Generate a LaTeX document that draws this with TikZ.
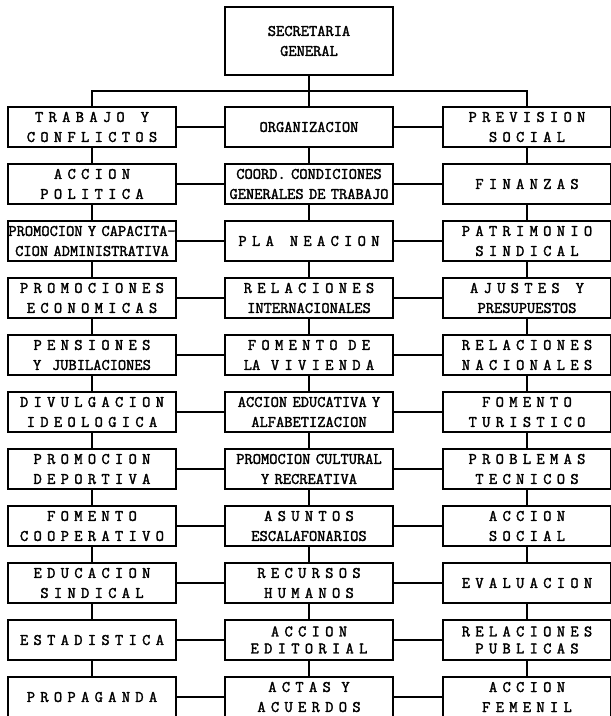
\documentclass[tikz,border=0pt]{standalone}
\usepackage{fontspec}
\setmonofont{Latin Modern Mono}[AutoFakeBold=2]
\usepackage{tikz}
\usetikzlibrary{positioning}

\begin{document}
\begin{tikzpicture}[
  x=1pt, y=1pt,
  node distance=17pt and 49pt,
  box/.style={draw, line width=1.5pt, outer sep=0pt, inner sep=0pt, text width=168pt, align=center, minimum height=40pt, font=\ttfamily\bfseries\fontsize{16}{20}\selectfont},
  tight/.style={font=\ttfamily\bfseries\fontsize{16}{17}\selectfont},
  link/.style={line width=1.3pt}
]
\useasboundingbox (0,0) rectangle (611,-716);

\node[box, minimum height=68pt] (sec) at (309,-41) {SECRETARIA\\GENERAL};
\coordinate[below=16pt of sec] (bus);

% row 1
\node[box] (trabajo) at (92,-127) {T R A B A J O\ \ \ Y\\C O N F L I C T O S};
\node[box, right=of trabajo] (organiz) {ORGANIZACION};
\node[box, right=50pt of organiz] (prevision) {P R E V I S I O N\\S O C I A L};
% row 2
\node[box, below=of trabajo] (accpol) {A C C I O N\\P O L I T I C A};
\node[box, below=of organiz] (coord) {COORD. CONDICIONES\\GENERALES DE TRABAJO};
\node[box, below=of prevision] (finanzas) {F I N A N Z A S};
% row 3
\node[box, below=of accpol] (capacita) {PROMOCION Y CAPACITA-\\CION ADMINISTRATIVA};
\node[box, below=of coord] (planea) {P L A\ \ \ N E A C I O N};
\node[box, below=of finanzas] (patrim) {P A T R I M O N I O\\S I N D I C A L};
% row 4
\node[box, below=of capacita] (promecon) {P R O M O C I O N E S\\E C O N O M I C A S};
\node[box, below=of planea] (relint) {R E L A C I O N E S\\INTERNACIONALES};
\node[box, below=of patrim] (ajustes) {A J U S T E S\ \ \ Y\\PRESUPUESTOS};
% row 5
\node[box, below=of promecon] (pension) {P E N S I O N E S\\Y\ \ JUBILACIONES};
\node[box, below=of relint] (vivienda) {F O M E N T O\ \ D E\\LA\ \ V I V I E N D A};
\node[box, below=of ajustes] (relnac) {R E L A C I O N E S\\N A C I O N A L E S};
% row 6
\node[box, below=of pension] (divulg) {D I V U L G A C I O N\\I D E O L O G I C A};
\node[box, below=of vivienda] (educat) {ACCION EDUCATIVA Y\\ALFABETIZACION};
\node[box, below=of relnac] (turismo) {F O M E N T O\\T U R I S T I C O};
% row 7
\node[box, below=of divulg] (deporte) {P R O M O C I O N\\D E P O R T I V A};
\node[box, below=of educat] (cultura) {PROMOCION CULTURAL\\Y RECREATIVA};
\node[box, below=of turismo] (tecnic) {P R O B L E M A S\\T E C N I C O S};
% row 8
\node[box, below=of deporte] (coop) {F O M E N T O\\C O O P E R A T I V O};
\node[box, below=of cultura] (escalaf) {A S U N T O S\\ESCALAFONARIOS};
\node[box, below=of tecnic] (social) {A C C I O N\\S O C I A L};
% row 9
\node[box, below=of coop] (edusind) {E D U C A C I O N\\S I N D I C A L};
\node[box, below=of escalaf] (recursos) {R E C U R S O S\\H U M A N O S};
\node[box, below=of social] (evalua) {E V A L U A C I O N};
% row 10
\node[box, below=of edusind] (estad) {E S T A D I S T I C A};
\node[box, tight, below=of recursos] (editor) {A C C I O N\\E D I T O R I A L};
\node[box, tight, below=of evalua] (relpub) {R E L A C I O N E S\\P U B L I C A S};
% row 11
\node[box, below=of estad] (propag) {P R O P A G A N D A};
\node[box, below=of editor] (actas) {A C T A S\ \ Y\\A C U E R D O S};
\node[box, below=of relpub] (femenil) {A C C I O N\\F E M E N I L};

\draw[link] (sec) -- (organiz);
\draw[link] (trabajo.north) |- (bus) -| (prevision.north);

\draw[link] (trabajo) -- (organiz);
\draw[link] (organiz) -- (prevision);
\draw[link] (accpol) -- (coord);
\draw[link] (coord) -- (finanzas);
\draw[link] (capacita) -- (planea);
\draw[link] (planea) -- (patrim);
\draw[link] (promecon) -- (relint);
\draw[link] (relint) -- (ajustes);
\draw[link] (pension) -- (vivienda);
\draw[link] (vivienda) -- (relnac);
\draw[link] (divulg) -- (educat);
\draw[link] (educat) -- (turismo);
\draw[link] (deporte) -- (cultura);
\draw[link] (cultura) -- (tecnic);
\draw[link] (coop) -- (escalaf);
\draw[link] (escalaf) -- (social);
\draw[link] (edusind) -- (recursos);
\draw[link] (recursos) -- (evalua);
\draw[link] (estad) -- (editor);
\draw[link] (editor) -- (relpub);
\draw[link] (propag) -- (actas);
\draw[link] (actas) -- (femenil);

\draw[link] (trabajo) -- (accpol);
\draw[link] (accpol) -- (capacita);
\draw[link] (capacita) -- (promecon);
\draw[link] (promecon) -- (pension);
\draw[link] (pension) -- (divulg);
\draw[link] (divulg) -- (deporte);
\draw[link] (deporte) -- (coop);
\draw[link] (coop) -- (edusind);
\draw[link] (edusind) -- (estad);
\draw[link] (estad) -- (propag);

\draw[link] (organiz) -- (coord);
\draw[link] (coord) -- (planea);
\draw[link] (planea) -- (relint);
\draw[link] (relint) -- (vivienda);
\draw[link] (vivienda) -- (educat);
\draw[link] (educat) -- (cultura);
\draw[link] (cultura) -- (escalaf);
\draw[link] (escalaf) -- (recursos);
\draw[link] (recursos) -- (editor);
\draw[link] (editor) -- (actas);

\draw[link] (prevision) -- (finanzas);
\draw[link] (finanzas) -- (patrim);
\draw[link] (patrim) -- (ajustes);
\draw[link] (ajustes) -- (relnac);
\draw[link] (relnac) -- (turismo);
\draw[link] (turismo) -- (tecnic);
\draw[link] (tecnic) -- (social);
\draw[link] (social) -- (evalua);
\draw[link] (evalua) -- (relpub);
\draw[link] (relpub) -- (femenil);
\end{tikzpicture}
\end{document}
